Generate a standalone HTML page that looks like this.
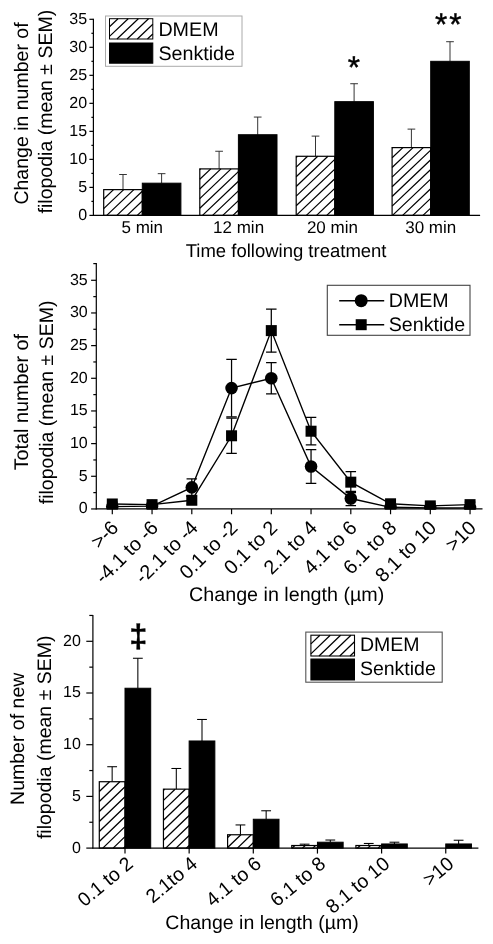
<!DOCTYPE html>
<html lang="en">
<head>
<meta charset="utf-8">
<title>Filopodia figure</title>
<style>
html,body{margin:0;padding:0;background:#fff;}
body{width:493px;height:944px;overflow:hidden;}
svg{display:block;will-change:transform;}
svg text{font-family:"Liberation Sans", Arial, sans-serif;fill:#000;text-rendering:geometricPrecision;}
</style>
</head>
<body>
<svg width="493" height="944" viewBox="0 0 493 944">
<defs>
<clipPath id="clip2"><rect x="96" y="255" width="397" height="254.5"/></clipPath>
</defs>
<rect width="493" height="944" fill="#fff"/>

<g id="panel1">
<text x="28.00" y="113.50" font-size="19.5" text-anchor="middle" transform="rotate(-90 28.00 113.50)" >Change in number of</text>
<text x="52.40" y="111.60" font-size="19.5" text-anchor="middle" transform="rotate(-90 52.40 111.60)" >filopodia (mean ± SEM)</text>
<line x1="123.00" y1="189.63" x2="123.00" y2="174.50" stroke="#2a2a2a" stroke-width="0.95" />
<line x1="119.15" y1="174.50" x2="126.85" y2="174.50" stroke="#2a2a2a" stroke-width="0.95" />
<line x1="161.60" y1="183.18" x2="161.60" y2="173.66" stroke="#2a2a2a" stroke-width="0.95" />
<line x1="157.75" y1="173.66" x2="165.45" y2="173.66" stroke="#2a2a2a" stroke-width="0.95" />
<rect x="103.70" y="189.63" width="38.60" height="25.77" fill="#fff" stroke="none"/>
<path d="M103.70,198.97L113.53,189.63M103.70,208.62L123.70,189.63M106.74,215.40L133.87,189.63M116.91,215.40L142.30,191.28M127.07,215.40L142.30,200.94M137.24,215.40L142.30,210.60" stroke="#000" stroke-width="1.25" fill="none"/>
<rect x="103.70" y="189.63" width="38.60" height="25.77" fill="none" stroke="#000" stroke-width="1.2"/>
<rect x="142.30" y="183.18" width="38.60" height="32.22" fill="#000" stroke="#000" stroke-width="1"/>
<line x1="219.10" y1="168.90" x2="219.10" y2="151.25" stroke="#2a2a2a" stroke-width="0.95" />
<line x1="215.25" y1="151.25" x2="222.95" y2="151.25" stroke="#2a2a2a" stroke-width="0.95" />
<line x1="257.70" y1="134.72" x2="257.70" y2="117.07" stroke="#2a2a2a" stroke-width="0.95" />
<line x1="253.85" y1="117.07" x2="261.55" y2="117.07" stroke="#2a2a2a" stroke-width="0.95" />
<rect x="199.80" y="168.90" width="38.60" height="46.50" fill="#fff" stroke="none"/>
<path d="M199.80,169.63L200.57,168.90M199.80,179.29L210.74,168.90M199.80,188.95L220.91,168.90M199.80,198.61L231.08,168.90M199.80,208.27L238.40,171.60M202.46,215.40L238.40,181.26M212.63,215.40L238.40,190.92M222.80,215.40L238.40,200.58M232.97,215.40L238.40,210.24" stroke="#000" stroke-width="1.25" fill="none"/>
<rect x="199.80" y="168.90" width="38.60" height="46.50" fill="none" stroke="#000" stroke-width="1.2"/>
<rect x="238.40" y="134.72" width="38.60" height="80.68" fill="#000" stroke="#000" stroke-width="1"/>
<line x1="315.50" y1="156.29" x2="315.50" y2="136.12" stroke="#2a2a2a" stroke-width="0.95" />
<line x1="311.65" y1="136.12" x2="319.35" y2="136.12" stroke="#2a2a2a" stroke-width="0.95" />
<line x1="354.10" y1="101.66" x2="354.10" y2="83.73" stroke="#2a2a2a" stroke-width="0.95" />
<line x1="350.25" y1="83.73" x2="357.95" y2="83.73" stroke="#2a2a2a" stroke-width="0.95" />
<rect x="296.20" y="156.29" width="38.60" height="59.11" fill="#fff" stroke="none"/>
<path d="M296.20,157.45L297.42,156.29M296.20,167.11L307.59,156.29M296.20,176.77L317.76,156.29M296.20,186.43L327.93,156.29M296.20,196.09L334.80,159.42M296.20,205.75L334.80,169.08M296.21,215.40L334.80,178.74M306.38,215.40L334.80,188.40M316.55,215.40L334.80,198.06M326.72,215.40L334.80,207.72" stroke="#000" stroke-width="1.25" fill="none"/>
<rect x="296.20" y="156.29" width="38.60" height="59.11" fill="none" stroke="#000" stroke-width="1.2"/>
<rect x="334.80" y="101.66" width="38.60" height="113.74" fill="#000" stroke="#000" stroke-width="1"/>
<line x1="411.40" y1="147.60" x2="411.40" y2="129.11" stroke="#2a2a2a" stroke-width="0.95" />
<line x1="407.55" y1="129.11" x2="415.25" y2="129.11" stroke="#2a2a2a" stroke-width="0.95" />
<line x1="450.00" y1="61.32" x2="450.00" y2="41.71" stroke="#2a2a2a" stroke-width="0.95" />
<line x1="446.15" y1="41.71" x2="453.85" y2="41.71" stroke="#2a2a2a" stroke-width="0.95" />
<rect x="392.10" y="147.60" width="38.60" height="67.80" fill="#fff" stroke="none"/>
<path d="M392.10,148.15L392.67,147.60M392.10,157.81L402.84,147.60M392.10,167.46L413.01,147.60M392.10,177.13L423.18,147.60M392.10,186.79L430.70,150.12M392.10,196.44L430.70,159.77M392.10,206.10L430.70,169.43M392.48,215.40L430.70,179.10M402.65,215.40L430.70,188.75M412.82,215.40L430.70,198.41M422.99,215.40L430.70,208.08" stroke="#000" stroke-width="1.25" fill="none"/>
<rect x="392.10" y="147.60" width="38.60" height="67.80" fill="none" stroke="#000" stroke-width="1.2"/>
<rect x="430.70" y="61.32" width="38.60" height="154.08" fill="#000" stroke="#000" stroke-width="1"/>
<line x1="93.40" y1="18.80" x2="93.40" y2="215.90" stroke="#000" stroke-width="1.2" />
<line x1="92.90" y1="215.40" x2="480.10" y2="215.40" stroke="#000" stroke-width="1.2" />
<line x1="89.40" y1="215.40" x2="93.40" y2="215.40" stroke="#000" stroke-width="1.2" />
<text x="87.10" y="219.90" font-size="16" text-anchor="end" >0</text>
<line x1="89.40" y1="187.38" x2="93.40" y2="187.38" stroke="#000" stroke-width="1.2" />
<text x="87.10" y="191.88" font-size="16" text-anchor="end" >5</text>
<line x1="89.40" y1="159.37" x2="93.40" y2="159.37" stroke="#000" stroke-width="1.2" />
<text x="87.10" y="163.87" font-size="16" text-anchor="end" >10</text>
<line x1="89.40" y1="131.36" x2="93.40" y2="131.36" stroke="#000" stroke-width="1.2" />
<text x="87.10" y="135.86" font-size="16" text-anchor="end" >15</text>
<line x1="89.40" y1="103.34" x2="93.40" y2="103.34" stroke="#000" stroke-width="1.2" />
<text x="87.10" y="107.84" font-size="16" text-anchor="end" >20</text>
<line x1="89.40" y1="75.33" x2="93.40" y2="75.33" stroke="#000" stroke-width="1.2" />
<text x="87.10" y="79.83" font-size="16" text-anchor="end" >25</text>
<line x1="89.40" y1="47.31" x2="93.40" y2="47.31" stroke="#000" stroke-width="1.2" />
<text x="87.10" y="51.81" font-size="16" text-anchor="end" >30</text>
<line x1="89.40" y1="19.30" x2="93.40" y2="19.30" stroke="#000" stroke-width="1.2" />
<text x="87.10" y="23.80" font-size="16" text-anchor="end" >35</text>
<line x1="91.40" y1="201.39" x2="93.40" y2="201.39" stroke="#000" stroke-width="1.2" />
<line x1="91.40" y1="173.38" x2="93.40" y2="173.38" stroke="#000" stroke-width="1.2" />
<line x1="91.40" y1="145.36" x2="93.40" y2="145.36" stroke="#000" stroke-width="1.2" />
<line x1="91.40" y1="117.35" x2="93.40" y2="117.35" stroke="#000" stroke-width="1.2" />
<line x1="91.40" y1="89.33" x2="93.40" y2="89.33" stroke="#000" stroke-width="1.2" />
<line x1="91.40" y1="61.32" x2="93.40" y2="61.32" stroke="#000" stroke-width="1.2" />
<line x1="91.40" y1="33.30" x2="93.40" y2="33.30" stroke="#000" stroke-width="1.2" />
<text x="142.30" y="233.20" font-size="17" text-anchor="middle" >5 min</text>
<text x="238.60" y="233.20" font-size="17" text-anchor="middle" >12 min</text>
<text x="332.40" y="233.20" font-size="17" text-anchor="middle" >20 min</text>
<text x="430.70" y="233.20" font-size="17" text-anchor="middle" >30 min</text>
<text x="286.10" y="256.50" font-size="18.5" text-anchor="middle" >Time following treatment</text>
<text x="353.95" y="77.80" font-size="31.5" text-anchor="middle" stroke="#000" stroke-width="0.4">*</text>
<text x="435.00" y="35.10" font-size="31.5" text-anchor="start" stroke="#000" stroke-width="0.4" letter-spacing="1.95">**</text>
<rect x="105.50" y="16.00" width="136.50" height="50.30" fill="#fff" stroke="#aaa" stroke-width="1"/>
<rect x="109.50" y="18.70" width="43.30" height="20.30" fill="#fff" stroke="none"/>
<path d="M109.50,26.78L118.00,18.70M109.50,36.44L128.17,18.70M116.97,39.00L138.34,18.70M127.14,39.00L148.51,18.70M137.31,39.00L152.80,24.28M147.47,39.00L152.80,33.94" stroke="#000" stroke-width="1.2" fill="none"/>
<rect x="109.50" y="18.70" width="43.30" height="20.30" fill="none" stroke="#000" stroke-width="1.0"/>
<rect x="109.50" y="43.00" width="43.30" height="20.20" fill="#000" stroke="#000" stroke-width="1"/>
<text x="158.40" y="35.70" font-size="19.7" text-anchor="start" >DMEM</text>
<text x="158.40" y="59.60" font-size="19.7" text-anchor="start" >Senktide</text>
</g>
<g id="panel2">
<text x="27.90" y="402.20" font-size="19.8" text-anchor="middle" transform="rotate(-90 27.90 402.20)" >Total number of</text>
<text x="53.00" y="402.40" font-size="19.5" text-anchor="middle" transform="rotate(-90 53.00 402.40)" >filopodia (mean ± SEM)</text>
<line x1="96.30" y1="263.00" x2="96.30" y2="509.45" stroke="#000" stroke-width="1.2" />
<line x1="95.80" y1="508.95" x2="482.50" y2="508.95" stroke="#000" stroke-width="1.2" />
<line x1="91.10" y1="508.95" x2="96.30" y2="508.95" stroke="#000" stroke-width="1.2" />
<text x="87.70" y="513.25" font-size="16" text-anchor="end" >0</text>
<line x1="91.10" y1="476.28" x2="96.30" y2="476.28" stroke="#000" stroke-width="1.2" />
<text x="87.70" y="480.58" font-size="16" text-anchor="end" >5</text>
<line x1="91.10" y1="443.62" x2="96.30" y2="443.62" stroke="#000" stroke-width="1.2" />
<text x="87.70" y="447.92" font-size="16" text-anchor="end" >10</text>
<line x1="91.10" y1="410.95" x2="96.30" y2="410.95" stroke="#000" stroke-width="1.2" />
<text x="87.70" y="415.25" font-size="16" text-anchor="end" >15</text>
<line x1="91.10" y1="378.29" x2="96.30" y2="378.29" stroke="#000" stroke-width="1.2" />
<text x="87.70" y="382.59" font-size="16" text-anchor="end" >20</text>
<line x1="91.10" y1="345.62" x2="96.30" y2="345.62" stroke="#000" stroke-width="1.2" />
<text x="87.70" y="349.93" font-size="16" text-anchor="end" >25</text>
<line x1="91.10" y1="312.96" x2="96.30" y2="312.96" stroke="#000" stroke-width="1.2" />
<text x="87.70" y="317.26" font-size="16" text-anchor="end" >30</text>
<line x1="91.10" y1="280.29" x2="96.30" y2="280.29" stroke="#000" stroke-width="1.2" />
<text x="87.70" y="284.59" font-size="16" text-anchor="end" >35</text>
<line x1="93.30" y1="492.62" x2="96.30" y2="492.62" stroke="#000" stroke-width="1.2" />
<line x1="93.30" y1="459.95" x2="96.30" y2="459.95" stroke="#000" stroke-width="1.2" />
<line x1="93.30" y1="427.29" x2="96.30" y2="427.29" stroke="#000" stroke-width="1.2" />
<line x1="93.30" y1="394.62" x2="96.30" y2="394.62" stroke="#000" stroke-width="1.2" />
<line x1="93.30" y1="361.96" x2="96.30" y2="361.96" stroke="#000" stroke-width="1.2" />
<line x1="93.30" y1="329.29" x2="96.30" y2="329.29" stroke="#000" stroke-width="1.2" />
<line x1="93.30" y1="296.63" x2="96.30" y2="296.63" stroke="#000" stroke-width="1.2" />
<line x1="93.30" y1="263.60" x2="96.30" y2="263.60" stroke="#000" stroke-width="1.2" />
<line x1="112.30" y1="508.95" x2="112.30" y2="514.25" stroke="#000" stroke-width="1.2" />
<text x="119.60" y="528.85" font-size="19.8" text-anchor="end" transform="rotate(-45 119.60 528.85)" >&gt;-6</text>
<line x1="152.05" y1="508.95" x2="152.05" y2="514.25" stroke="#000" stroke-width="1.2" />
<text x="159.35" y="528.85" font-size="19.8" text-anchor="end" transform="rotate(-45 159.35 528.85)" >-4.1 to -6</text>
<line x1="191.80" y1="508.95" x2="191.80" y2="514.25" stroke="#000" stroke-width="1.2" />
<text x="199.10" y="528.85" font-size="19.8" text-anchor="end" transform="rotate(-45 199.10 528.85)" >-2.1 to -4</text>
<line x1="231.55" y1="508.95" x2="231.55" y2="514.25" stroke="#000" stroke-width="1.2" />
<text x="238.85" y="528.85" font-size="19.8" text-anchor="end" transform="rotate(-45 238.85 528.85)" >0.1 to -2</text>
<line x1="271.30" y1="508.95" x2="271.30" y2="514.25" stroke="#000" stroke-width="1.2" />
<text x="278.60" y="528.85" font-size="19.8" text-anchor="end" transform="rotate(-45 278.60 528.85)" >0.1 to 2</text>
<line x1="311.05" y1="508.95" x2="311.05" y2="514.25" stroke="#000" stroke-width="1.2" />
<text x="318.35" y="528.85" font-size="19.8" text-anchor="end" transform="rotate(-45 318.35 528.85)" >2.1 to 4</text>
<line x1="350.80" y1="508.95" x2="350.80" y2="514.25" stroke="#000" stroke-width="1.2" />
<text x="358.10" y="528.85" font-size="19.8" text-anchor="end" transform="rotate(-45 358.10 528.85)" >4.1 to 6</text>
<line x1="390.55" y1="508.95" x2="390.55" y2="514.25" stroke="#000" stroke-width="1.2" />
<text x="397.85" y="528.85" font-size="19.8" text-anchor="end" transform="rotate(-45 397.85 528.85)" >6.1 to 8</text>
<line x1="430.30" y1="508.95" x2="430.30" y2="514.25" stroke="#000" stroke-width="1.2" />
<text x="437.60" y="528.85" font-size="19.8" text-anchor="end" transform="rotate(-45 437.60 528.85)" >8.1 to 10</text>
<line x1="470.05" y1="508.95" x2="470.05" y2="514.25" stroke="#000" stroke-width="1.2" />
<text x="477.35" y="528.85" font-size="19.8" text-anchor="end" transform="rotate(-45 477.35 528.85)" >&gt;10</text>
<text x="286.70" y="601.30" font-size="19.7" text-anchor="middle" >Change in length (µm)</text>
<g clip-path="url(#clip2)">
<line x1="112.30" y1="506.60" x2="112.30" y2="504.64" stroke="#000" stroke-width="1.25" />
<line x1="107.05" y1="504.64" x2="117.55" y2="504.64" stroke="#000" stroke-width="1.25" />
<line x1="112.30" y1="506.60" x2="112.30" y2="508.56" stroke="#000" stroke-width="1.25" />
<line x1="107.05" y1="508.56" x2="117.55" y2="508.56" stroke="#000" stroke-width="1.25" />
<line x1="112.30" y1="503.98" x2="112.30" y2="502.03" stroke="#000" stroke-width="1.25" />
<line x1="107.05" y1="502.03" x2="117.55" y2="502.03" stroke="#000" stroke-width="1.25" />
<line x1="112.30" y1="503.98" x2="112.30" y2="505.94" stroke="#000" stroke-width="1.25" />
<line x1="107.05" y1="505.94" x2="117.55" y2="505.94" stroke="#000" stroke-width="1.25" />
<line x1="152.05" y1="506.08" x2="152.05" y2="504.12" stroke="#000" stroke-width="1.25" />
<line x1="146.80" y1="504.12" x2="157.30" y2="504.12" stroke="#000" stroke-width="1.25" />
<line x1="152.05" y1="506.08" x2="152.05" y2="508.04" stroke="#000" stroke-width="1.25" />
<line x1="146.80" y1="508.04" x2="157.30" y2="508.04" stroke="#000" stroke-width="1.25" />
<line x1="152.05" y1="504.64" x2="152.05" y2="502.68" stroke="#000" stroke-width="1.25" />
<line x1="146.80" y1="502.68" x2="157.30" y2="502.68" stroke="#000" stroke-width="1.25" />
<line x1="152.05" y1="504.64" x2="152.05" y2="506.60" stroke="#000" stroke-width="1.25" />
<line x1="146.80" y1="506.60" x2="157.30" y2="506.60" stroke="#000" stroke-width="1.25" />
<line x1="191.80" y1="487.39" x2="191.80" y2="478.90" stroke="#000" stroke-width="1.25" />
<line x1="186.55" y1="478.90" x2="197.05" y2="478.90" stroke="#000" stroke-width="1.25" />
<line x1="191.80" y1="487.39" x2="191.80" y2="495.88" stroke="#000" stroke-width="1.25" />
<line x1="186.55" y1="495.88" x2="197.05" y2="495.88" stroke="#000" stroke-width="1.25" />
<line x1="191.80" y1="500.26" x2="191.80" y2="496.34" stroke="#000" stroke-width="1.25" />
<line x1="186.55" y1="496.34" x2="197.05" y2="496.34" stroke="#000" stroke-width="1.25" />
<line x1="191.80" y1="500.26" x2="191.80" y2="504.18" stroke="#000" stroke-width="1.25" />
<line x1="186.55" y1="504.18" x2="197.05" y2="504.18" stroke="#000" stroke-width="1.25" />
<line x1="231.55" y1="388.09" x2="231.55" y2="359.34" stroke="#000" stroke-width="1.25" />
<line x1="226.30" y1="359.34" x2="236.80" y2="359.34" stroke="#000" stroke-width="1.25" />
<line x1="231.55" y1="388.09" x2="231.55" y2="416.83" stroke="#000" stroke-width="1.25" />
<line x1="226.30" y1="416.83" x2="236.80" y2="416.83" stroke="#000" stroke-width="1.25" />
<line x1="231.55" y1="435.78" x2="231.55" y2="418.14" stroke="#000" stroke-width="1.25" />
<line x1="226.30" y1="418.14" x2="236.80" y2="418.14" stroke="#000" stroke-width="1.25" />
<line x1="231.55" y1="435.78" x2="231.55" y2="453.42" stroke="#000" stroke-width="1.25" />
<line x1="226.30" y1="453.42" x2="236.80" y2="453.42" stroke="#000" stroke-width="1.25" />
<line x1="271.30" y1="378.29" x2="271.30" y2="362.61" stroke="#000" stroke-width="1.25" />
<line x1="266.05" y1="362.61" x2="276.55" y2="362.61" stroke="#000" stroke-width="1.25" />
<line x1="271.30" y1="378.29" x2="271.30" y2="393.97" stroke="#000" stroke-width="1.25" />
<line x1="266.05" y1="393.97" x2="276.55" y2="393.97" stroke="#000" stroke-width="1.25" />
<line x1="271.30" y1="330.60" x2="271.30" y2="309.04" stroke="#000" stroke-width="1.25" />
<line x1="266.05" y1="309.04" x2="276.55" y2="309.04" stroke="#000" stroke-width="1.25" />
<line x1="271.30" y1="330.60" x2="271.30" y2="352.16" stroke="#000" stroke-width="1.25" />
<line x1="266.05" y1="352.16" x2="276.55" y2="352.16" stroke="#000" stroke-width="1.25" />
<line x1="311.05" y1="466.49" x2="311.05" y2="449.50" stroke="#000" stroke-width="1.25" />
<line x1="305.80" y1="449.50" x2="316.30" y2="449.50" stroke="#000" stroke-width="1.25" />
<line x1="311.05" y1="466.49" x2="311.05" y2="483.47" stroke="#000" stroke-width="1.25" />
<line x1="305.80" y1="483.47" x2="316.30" y2="483.47" stroke="#000" stroke-width="1.25" />
<line x1="311.05" y1="431.21" x2="311.05" y2="417.49" stroke="#000" stroke-width="1.25" />
<line x1="305.80" y1="417.49" x2="316.30" y2="417.49" stroke="#000" stroke-width="1.25" />
<line x1="311.05" y1="431.21" x2="311.05" y2="444.93" stroke="#000" stroke-width="1.25" />
<line x1="305.80" y1="444.93" x2="316.30" y2="444.93" stroke="#000" stroke-width="1.25" />
<line x1="350.80" y1="498.50" x2="350.80" y2="491.31" stroke="#000" stroke-width="1.25" />
<line x1="345.55" y1="491.31" x2="356.05" y2="491.31" stroke="#000" stroke-width="1.25" />
<line x1="350.80" y1="498.50" x2="350.80" y2="505.68" stroke="#000" stroke-width="1.25" />
<line x1="345.55" y1="505.68" x2="356.05" y2="505.68" stroke="#000" stroke-width="1.25" />
<line x1="350.80" y1="482.16" x2="350.80" y2="471.71" stroke="#000" stroke-width="1.25" />
<line x1="345.55" y1="471.71" x2="356.05" y2="471.71" stroke="#000" stroke-width="1.25" />
<line x1="350.80" y1="482.16" x2="350.80" y2="492.62" stroke="#000" stroke-width="1.25" />
<line x1="345.55" y1="492.62" x2="356.05" y2="492.62" stroke="#000" stroke-width="1.25" />
<line x1="390.55" y1="507.32" x2="390.55" y2="505.68" stroke="#000" stroke-width="1.25" />
<line x1="385.30" y1="505.68" x2="395.80" y2="505.68" stroke="#000" stroke-width="1.25" />
<line x1="390.55" y1="507.32" x2="390.55" y2="508.95" stroke="#000" stroke-width="1.25" />
<line x1="385.30" y1="508.95" x2="395.80" y2="508.95" stroke="#000" stroke-width="1.25" />
<line x1="390.55" y1="503.79" x2="390.55" y2="501.18" stroke="#000" stroke-width="1.25" />
<line x1="385.30" y1="501.18" x2="395.80" y2="501.18" stroke="#000" stroke-width="1.25" />
<line x1="390.55" y1="503.79" x2="390.55" y2="506.40" stroke="#000" stroke-width="1.25" />
<line x1="385.30" y1="506.40" x2="395.80" y2="506.40" stroke="#000" stroke-width="1.25" />
<line x1="430.30" y1="507.97" x2="430.30" y2="506.66" stroke="#000" stroke-width="1.25" />
<line x1="425.05" y1="506.66" x2="435.55" y2="506.66" stroke="#000" stroke-width="1.25" />
<line x1="430.30" y1="507.97" x2="430.30" y2="509.28" stroke="#000" stroke-width="1.25" />
<line x1="425.05" y1="509.28" x2="435.55" y2="509.28" stroke="#000" stroke-width="1.25" />
<line x1="430.30" y1="505.88" x2="430.30" y2="503.92" stroke="#000" stroke-width="1.25" />
<line x1="425.05" y1="503.92" x2="435.55" y2="503.92" stroke="#000" stroke-width="1.25" />
<line x1="430.30" y1="505.88" x2="430.30" y2="507.84" stroke="#000" stroke-width="1.25" />
<line x1="425.05" y1="507.84" x2="435.55" y2="507.84" stroke="#000" stroke-width="1.25" />
<line x1="470.05" y1="507.84" x2="470.05" y2="506.53" stroke="#000" stroke-width="1.25" />
<line x1="464.80" y1="506.53" x2="475.30" y2="506.53" stroke="#000" stroke-width="1.25" />
<line x1="470.05" y1="507.84" x2="470.05" y2="509.15" stroke="#000" stroke-width="1.25" />
<line x1="464.80" y1="509.15" x2="475.30" y2="509.15" stroke="#000" stroke-width="1.25" />
<line x1="470.05" y1="504.64" x2="470.05" y2="502.03" stroke="#000" stroke-width="1.25" />
<line x1="464.80" y1="502.03" x2="475.30" y2="502.03" stroke="#000" stroke-width="1.25" />
<line x1="470.05" y1="504.64" x2="470.05" y2="507.25" stroke="#000" stroke-width="1.25" />
<line x1="464.80" y1="507.25" x2="475.30" y2="507.25" stroke="#000" stroke-width="1.25" />
<polyline points="112.30,506.60 152.05,506.08 191.80,487.39 231.55,388.09 271.30,378.29 311.05,466.49 350.80,498.50 390.55,507.32 430.30,507.97 470.05,507.84" fill="none" stroke="#000" stroke-width="1.4"/>
<polyline points="112.30,503.98 152.05,504.64 191.80,500.26 231.55,435.78 271.30,330.60 311.05,431.21 350.80,482.16 390.55,503.79 430.30,505.88 470.05,504.64" fill="none" stroke="#000" stroke-width="1.4"/>
<circle cx="112.30" cy="506.60" r="6.3" fill="#000"/>
<circle cx="152.05" cy="506.08" r="6.3" fill="#000"/>
<circle cx="191.80" cy="487.39" r="6.3" fill="#000"/>
<circle cx="231.55" cy="388.09" r="6.3" fill="#000"/>
<circle cx="271.30" cy="378.29" r="6.3" fill="#000"/>
<circle cx="311.05" cy="466.49" r="6.3" fill="#000"/>
<circle cx="350.80" cy="498.50" r="6.3" fill="#000"/>
<circle cx="390.55" cy="507.32" r="6.3" fill="#000"/>
<circle cx="430.30" cy="507.97" r="6.3" fill="#000"/>
<circle cx="470.05" cy="507.84" r="6.3" fill="#000"/>
<rect x="106.80" y="498.48" width="11" height="11" fill="#000"/>
<rect x="146.55" y="499.14" width="11" height="11" fill="#000"/>
<rect x="186.30" y="494.76" width="11" height="11" fill="#000"/>
<rect x="226.05" y="430.28" width="11" height="11" fill="#000"/>
<rect x="265.80" y="325.10" width="11" height="11" fill="#000"/>
<rect x="305.55" y="425.71" width="11" height="11" fill="#000"/>
<rect x="345.30" y="476.66" width="11" height="11" fill="#000"/>
<rect x="385.05" y="498.29" width="11" height="11" fill="#000"/>
<rect x="424.80" y="500.38" width="11" height="11" fill="#000"/>
<rect x="464.55" y="499.14" width="11" height="11" fill="#000"/>
</g>
<rect x="327.30" y="285.30" width="142.70" height="50.00" fill="#fff" stroke="#444" stroke-width="1.1"/>
<line x1="339.20" y1="300.70" x2="384.20" y2="300.70" stroke="#000" stroke-width="1.4" />
<circle cx="361.2" cy="300.7" r="6.5" fill="#000"/>
<line x1="339.20" y1="324.70" x2="384.20" y2="324.70" stroke="#000" stroke-width="1.4" />
<rect x="355.7" y="319.2" width="11" height="11" fill="#000"/>
<text x="388.80" y="306.60" font-size="19.6" text-anchor="start" >DMEM</text>
<text x="388.80" y="330.50" font-size="19.6" text-anchor="start" >Senktide</text>
</g>
<g id="panel3">
<text x="24.50" y="738.80" font-size="19.5" text-anchor="middle" transform="rotate(-90 24.50 738.80)" >Number of new</text>
<text x="51.20" y="737.30" font-size="19.5" text-anchor="middle" transform="rotate(-90 51.20 737.30)" >filopodia (mean ± SEM)</text>
<line x1="112.15" y1="781.72" x2="112.15" y2="766.72" stroke="#000" stroke-width="1.05" />
<line x1="107.25" y1="766.72" x2="117.05" y2="766.72" stroke="#000" stroke-width="1.05" />
<rect x="99.30" y="781.72" width="25.70" height="66.38" fill="#fff" stroke="none"/>
<path d="M99.30,791.58L109.52,781.72M99.30,801.56L119.86,781.72M99.30,811.54L125.00,786.74M99.30,821.52L125.00,796.72M99.30,831.50L125.00,806.69M99.30,841.48L125.00,816.67M102.78,848.10L125.00,826.65M113.12,848.10L125.00,836.63M123.46,848.10L125.00,846.62" stroke="#000" stroke-width="1.3" fill="none"/>
<rect x="99.30" y="781.72" width="25.70" height="66.38" fill="none" stroke="#000" stroke-width="1.2"/>
<line x1="137.85" y1="688.24" x2="137.85" y2="658.26" stroke="#000" stroke-width="1.05" />
<line x1="132.95" y1="658.26" x2="142.75" y2="658.26" stroke="#000" stroke-width="1.05" />
<rect x="125.00" y="688.24" width="25.70" height="159.86" fill="#000" stroke="#000" stroke-width="1"/>
<line x1="176.30" y1="789.16" x2="176.30" y2="768.48" stroke="#000" stroke-width="1.05" />
<line x1="171.40" y1="768.48" x2="181.20" y2="768.48" stroke="#000" stroke-width="1.05" />
<rect x="163.45" y="789.16" width="25.70" height="58.94" fill="#fff" stroke="none"/>
<path d="M163.45,790.39L164.72,789.16M163.45,800.37L175.07,789.16M163.45,810.35L185.41,789.16M163.45,820.33L189.15,795.53M163.45,830.31L189.15,805.51M163.45,840.29L189.15,815.49M165.70,848.10L189.15,825.47M176.04,848.10L189.15,835.45M186.38,848.10L189.15,845.43" stroke="#000" stroke-width="1.3" fill="none"/>
<rect x="163.45" y="789.16" width="25.70" height="58.94" fill="none" stroke="#000" stroke-width="1.2"/>
<line x1="202.00" y1="740.98" x2="202.00" y2="719.47" stroke="#000" stroke-width="1.05" />
<line x1="197.10" y1="719.47" x2="206.90" y2="719.47" stroke="#000" stroke-width="1.05" />
<rect x="189.15" y="740.98" width="25.70" height="107.12" fill="#000" stroke="#000" stroke-width="1"/>
<line x1="240.45" y1="834.76" x2="240.45" y2="824.94" stroke="#000" stroke-width="1.05" />
<line x1="235.55" y1="824.94" x2="245.35" y2="824.94" stroke="#000" stroke-width="1.05" />
<rect x="227.60" y="834.76" width="25.70" height="13.34" fill="#fff" stroke="none"/>
<path d="M227.60,837.61L230.55,834.76M227.60,847.59L240.89,834.76M237.41,848.10L251.23,834.76M247.75,848.10L253.30,842.75" stroke="#000" stroke-width="1.3" fill="none"/>
<rect x="227.60" y="834.76" width="25.70" height="13.34" fill="none" stroke="#000" stroke-width="1.2"/>
<line x1="266.15" y1="819.25" x2="266.15" y2="810.77" stroke="#000" stroke-width="1.05" />
<line x1="261.25" y1="810.77" x2="271.05" y2="810.77" stroke="#000" stroke-width="1.05" />
<rect x="253.30" y="819.25" width="25.70" height="28.85" fill="#000" stroke="#000" stroke-width="1"/>
<line x1="304.60" y1="845.51" x2="304.60" y2="844.17" stroke="#000" stroke-width="1.05" />
<line x1="299.70" y1="844.17" x2="309.50" y2="844.17" stroke="#000" stroke-width="1.05" />
<rect x="291.75" y="845.51" width="25.70" height="2.59" fill="#fff" stroke="none"/>
<path d="M292.15,848.10L294.82,845.51M302.49,848.10L305.17,845.51M312.83,848.10L315.51,845.51" stroke="#000" stroke-width="1.3" fill="none"/>
<rect x="291.75" y="845.51" width="25.70" height="2.59" fill="none" stroke="#000" stroke-width="1.2"/>
<line x1="330.30" y1="842.21" x2="330.30" y2="840.03" stroke="#000" stroke-width="1.05" />
<line x1="325.40" y1="840.03" x2="335.20" y2="840.03" stroke="#000" stroke-width="1.05" />
<rect x="317.45" y="842.21" width="25.70" height="5.89" fill="#000" stroke="#000" stroke-width="1"/>
<line x1="368.75" y1="845.51" x2="368.75" y2="843.45" stroke="#000" stroke-width="1.05" />
<line x1="363.85" y1="843.45" x2="373.65" y2="843.45" stroke="#000" stroke-width="1.05" />
<rect x="355.90" y="845.51" width="25.70" height="2.59" fill="#fff" stroke="none"/>
<path d="M357.43,848.10L360.11,845.51M367.77,848.10L370.45,845.51M378.11,848.10L380.79,845.51" stroke="#000" stroke-width="1.3" fill="none"/>
<rect x="355.90" y="845.51" width="25.70" height="2.59" fill="none" stroke="#000" stroke-width="1.2"/>
<line x1="394.45" y1="843.96" x2="394.45" y2="842.21" stroke="#000" stroke-width="1.05" />
<line x1="389.55" y1="842.21" x2="399.35" y2="842.21" stroke="#000" stroke-width="1.05" />
<rect x="381.60" y="843.96" width="25.70" height="4.14" fill="#000" stroke="#000" stroke-width="1"/>
<line x1="458.60" y1="843.96" x2="458.60" y2="840.24" stroke="#000" stroke-width="1.05" />
<line x1="453.70" y1="840.24" x2="463.50" y2="840.24" stroke="#000" stroke-width="1.05" />
<rect x="445.75" y="843.96" width="25.70" height="4.14" fill="#000" stroke="#000" stroke-width="1"/>
<line x1="92.90" y1="615.00" x2="92.90" y2="848.60" stroke="#000" stroke-width="1.2" />
<line x1="92.40" y1="848.10" x2="478.40" y2="848.10" stroke="#000" stroke-width="1.2" />
<line x1="86.30" y1="848.10" x2="92.90" y2="848.10" stroke="#000" stroke-width="1.2" />
<text x="80.90" y="852.50" font-size="16" text-anchor="end" >0</text>
<line x1="86.30" y1="796.40" x2="92.90" y2="796.40" stroke="#000" stroke-width="1.2" />
<text x="80.90" y="800.80" font-size="16" text-anchor="end" >5</text>
<line x1="86.30" y1="744.70" x2="92.90" y2="744.70" stroke="#000" stroke-width="1.2" />
<text x="80.90" y="749.10" font-size="16" text-anchor="end" >10</text>
<line x1="86.30" y1="693.00" x2="92.90" y2="693.00" stroke="#000" stroke-width="1.2" />
<text x="80.90" y="697.40" font-size="16" text-anchor="end" >15</text>
<line x1="86.30" y1="641.30" x2="92.90" y2="641.30" stroke="#000" stroke-width="1.2" />
<text x="80.90" y="645.70" font-size="16" text-anchor="end" >20</text>
<line x1="89.30" y1="822.25" x2="92.90" y2="822.25" stroke="#000" stroke-width="1.2" />
<line x1="89.30" y1="770.55" x2="92.90" y2="770.55" stroke="#000" stroke-width="1.2" />
<line x1="89.30" y1="718.85" x2="92.90" y2="718.85" stroke="#000" stroke-width="1.2" />
<line x1="89.30" y1="667.15" x2="92.90" y2="667.15" stroke="#000" stroke-width="1.2" />
<line x1="89.30" y1="615.45" x2="92.90" y2="615.45" stroke="#000" stroke-width="1.2" />
<line x1="125.00" y1="848.10" x2="125.00" y2="853.60" stroke="#000" stroke-width="1.2" />
<text x="134.40" y="865.70" font-size="19.5" text-anchor="end" transform="rotate(-40 134.40 865.70)" >0.1 to 2</text>
<line x1="189.15" y1="848.10" x2="189.15" y2="853.60" stroke="#000" stroke-width="1.2" />
<text x="198.55" y="865.70" font-size="19.5" text-anchor="end" transform="rotate(-40 198.55 865.70)" >2.1to 4</text>
<line x1="253.30" y1="848.10" x2="253.30" y2="853.60" stroke="#000" stroke-width="1.2" />
<text x="262.70" y="865.70" font-size="19.5" text-anchor="end" transform="rotate(-40 262.70 865.70)" >4.1 to 6</text>
<line x1="317.45" y1="848.10" x2="317.45" y2="853.60" stroke="#000" stroke-width="1.2" />
<text x="326.85" y="865.70" font-size="19.5" text-anchor="end" transform="rotate(-40 326.85 865.70)" >6.1 to 8</text>
<line x1="381.60" y1="848.10" x2="381.60" y2="853.60" stroke="#000" stroke-width="1.2" />
<text x="391.00" y="865.70" font-size="19.5" text-anchor="end" transform="rotate(-40 391.00 865.70)" >8.1 to 10</text>
<line x1="445.75" y1="848.10" x2="445.75" y2="853.60" stroke="#000" stroke-width="1.2" />
<text x="455.15" y="865.70" font-size="19.5" text-anchor="end" transform="rotate(-40 455.15 865.70)" >&gt;10</text>
<text x="262.00" y="929.00" font-size="19.5" text-anchor="middle" >Change in length (µm)</text>
<text x="138.20" y="646.90" font-size="32.6" text-anchor="middle" font-weight="bold" stroke="#000" stroke-width="0.35">‡</text>
<rect x="305.80" y="632.10" width="136.40" height="50.10" fill="#fff" stroke="#555" stroke-width="1.1"/>
<rect x="310.90" y="635.20" width="43.60" height="20.80" fill="#fff" stroke="none"/>
<path d="M310.90,643.88L319.90,635.20M310.90,653.86L330.24,635.20M319.03,656.00L340.58,635.20M329.37,656.00L350.92,635.20M339.71,656.00L354.50,641.73M350.05,656.00L354.50,651.71" stroke="#000" stroke-width="1.25" fill="none"/>
<rect x="310.90" y="635.20" width="43.60" height="20.80" fill="none" stroke="#000" stroke-width="1.1"/>
<rect x="310.90" y="659.00" width="43.60" height="21.00" fill="#000" stroke="#000" stroke-width="1"/>
<text x="359.90" y="651.30" font-size="19.5" text-anchor="start" >DMEM</text>
<text x="359.90" y="674.60" font-size="19.5" text-anchor="start" >Senktide</text>
</g>
</svg>
</body>
</html>
